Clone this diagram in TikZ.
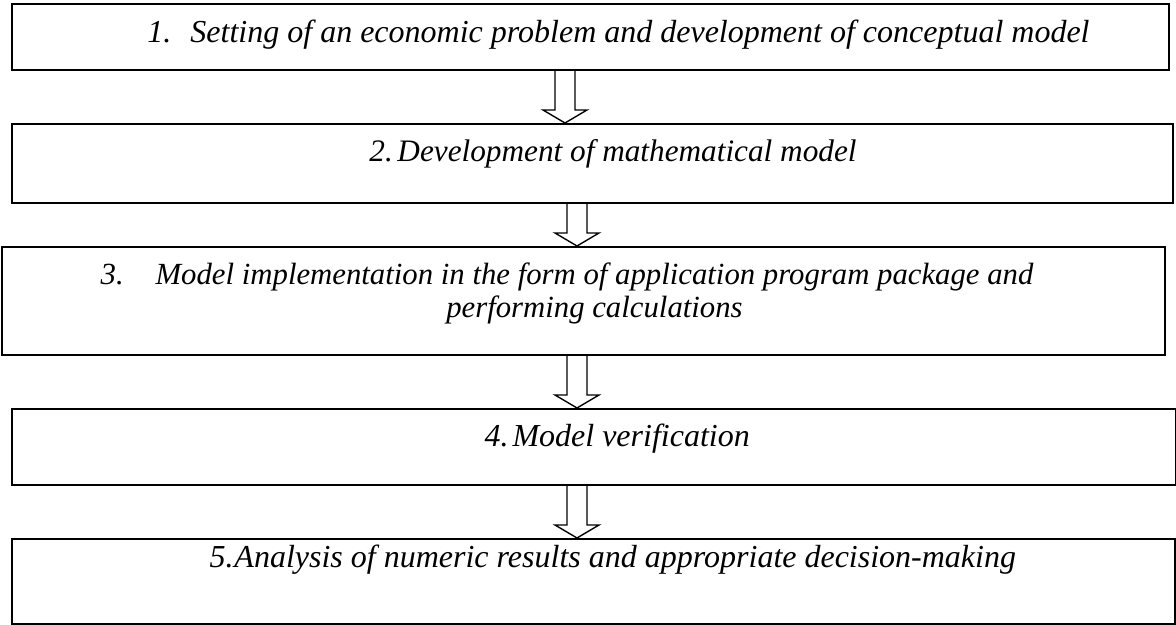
\documentclass[tikz,border=0pt]{standalone}
\usepackage{fontspec}
\setmainfont{Liberation Serif}
\usetikzlibrary{calc}

% hollow block arrow from the bottom of one box to the top of the next
\newcommand{\flowarrow}[3]{%
  \draw[hollow] ($(#1.south -| #3)+(-10,0)$) -- ($(#2.north -| #3)+(-10,13)$)
    -- ++(-12,0) -- (#2.north -| #3) -- ++(22,13) -- ++(-12,0)
    -- ($(#1.south -| #3)+(10,0)$);
}

\begin{document}
\begin{tikzpicture}[x=0.4pt, y=0.4pt,
    stepbox/.style={draw, line width=0.8pt, rectangle, inner sep=0pt, anchor=north west},
    steptext/.style={inner sep=0pt, font=\fontsize{12.8}{13.2}\selectfont\itshape},
    hollow/.style={line width=0.55pt, line join=miter}]
  \useasboundingbox (0,0) rectangle (1176,-625);
  % the five steps
  \node[stepbox, minimum width=1157*0.4pt, minimum height=66*0.4pt] (b1) at (11,-3) {};
  \node[stepbox, minimum width=1161*0.4pt, minimum height=79*0.4pt] (b2) at (11,-123) {};
  \node[stepbox, minimum width=1163*0.4pt, minimum height=108*0.4pt] (b3) at (1,-246) {};
  \node[stepbox, minimum width=1164*0.4pt, minimum height=76*0.4pt] (b4) at (11,-408) {};
  \node[stepbox, minimum width=1163*0.4pt, minimum height=85*0.4pt] (b5) at (11,-538) {};
  % texts
  \node[steptext, anchor=base west] (t1) at (147,-43)
       {\makebox[17.2pt][l]{1.}Setting of an economic problem and development of conceptual model};
  \node[steptext, anchor=base west, font=\fontsize{12.5}{13.2}\selectfont\itshape] (t2) at (369,-162)
       {\makebox[11.2pt][l]{2.}Development of mathematical model};
  \node[steptext, anchor=base, align=center, font=\fontsize{12.3}{13.2}\selectfont\itshape] (t3) at (594.5,-318)
       {\makebox[22pt][l]{3.}Model implementation in the form of application program package and\hspace*{22pt}\\
        performing calculations};
  \node[steptext, anchor=base west] (t4) at (484,-447)
       {\makebox[11.2pt][l]{4.}Model verification};
  \node[steptext, anchor=base west] (t5) at (209,-568)
       {\makebox[10pt][l]{5.}Analysis of numeric results and appropriate decision-making};
  % arrows between the steps
  \coordinate (ax1) at (565,0);
  \coordinate (ax2) at (577,0);
  \flowarrow{b1}{b2}{ax1}
  \flowarrow{b2}{b3}{ax2}
  \flowarrow{b3}{b4}{ax2}
  \flowarrow{b4}{b5}{ax2}
\end{tikzpicture}
\end{document}
